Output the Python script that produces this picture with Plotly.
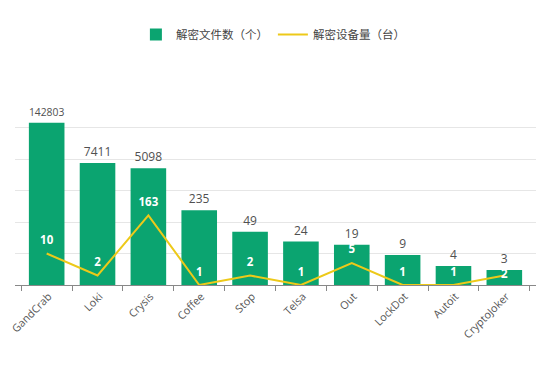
import plotly.graph_objects as go

categories = ["GandCrab", "Loki", "Crysis", "Coffee", "Stop", "Telsa", "Out", "LockDot", "Autoit", "CryptoJoker"]
files_decrypted = [142803, 7411, 5098, 235, 49, 24, 19, 9, 4, 3]
devices_decrypted = [10, 2, 163, 1, 2, 1, 5, 1, 1, 2]

green = "#0BA470"
yellow = "#EDC919"
font_family = "Open Sans, Noto Sans CJK SC, sans-serif"

label_pos = ["top center"] * (len(categories) - 1) + ["middle center"]

fig = go.Figure()
fig.add_trace(go.Bar(
    x=categories, y=files_decrypted, name="解密文件数（个）",
    marker=dict(color=green, line=dict(width=0)),
    text=[str(v) for v in files_decrypted], textposition="outside",
    textfont=dict(color="#505050", size=12, family=font_family),
    cliponaxis=False, width=0.7,
))
fig.add_trace(go.Scatter(
    x=categories, y=devices_decrypted, name="解密设备量（台）",
    mode="lines+markers+text", line=dict(color=yellow, width=2),
    marker=dict(size=9, color="rgba(0,0,0,0)"),
    text=[str(v) for v in devices_decrypted], textposition=label_pos,
    textfont=dict(color="white", size=11.5, family="Open Sans, sans-serif", weight="bold"),
    cliponaxis=False,
))

# page body adds an 8px offset; figure sized to fit the window
fig.update_layout(
    width=546, height=375,
    margin=dict(l=7, r=18, t=88, b=98, autoexpand=False),
    paper_bgcolor="white", plot_bgcolor="white",
    font=dict(family=font_family, color="#555555", size=11),
    showlegend=True,
    legend=dict(orientation="h", x=0.495, xanchor="center", y=0.968, yref="container",
                yanchor="top", font=dict(size=11.5, color="#444444"),
                traceorder="normal"),
    bargap=0.3,
)
fig.update_xaxes(
    tickangle=-45, tickson="boundaries", ticks="outside", ticklen=5, tickcolor="#888888",
    showline=True, linecolor="#888888", linewidth=1, showgrid=False, automargin=False,
    tickfont=dict(size=10.8, color="#555555"), ticklabelshift=2,
)
fig.update_yaxes(
    type="log", range=[0, 6], dtick=1, showticklabels=False, showline=False,
    gridcolor="#E6E6E6", gridwidth=1, zeroline=False, automargin=False,
)

fig.write_html("out.html")
